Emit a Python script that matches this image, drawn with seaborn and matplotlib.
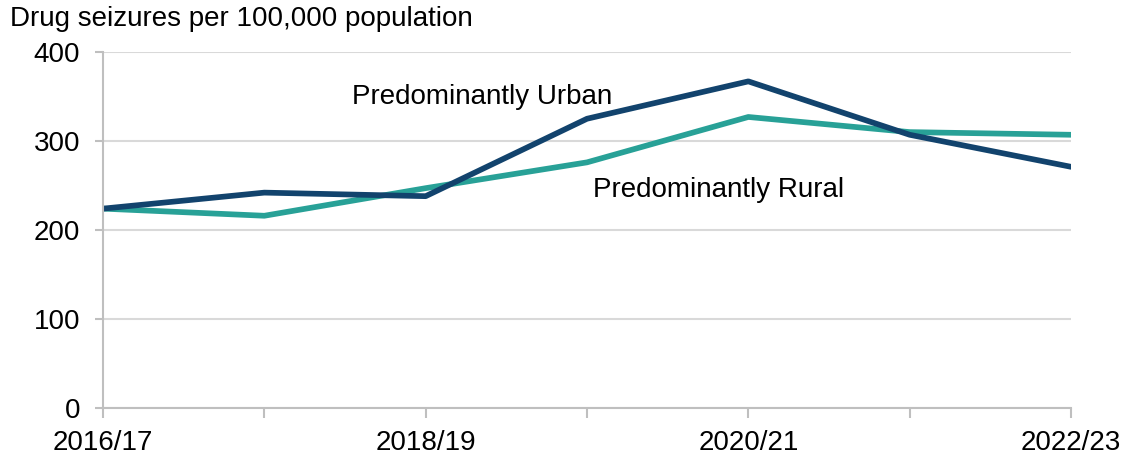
import matplotlib
matplotlib.use("Agg")
import matplotlib.pyplot as plt
import seaborn as sns
import pandas as pd

years = ["2016/17", "2017/18", "2018/19", "2019/20", "2020/21", "2021/22", "2022/23"]
urban = [224, 242, 238, 325, 367, 307, 271]
rural = [224, 216, 247, 276, 327, 310, 307]
series_names = ["Predominantly Urban", "Predominantly Rural"]
y_ticks = [0, 100, 200, 300, 400]
title = "Drug seizures per 100,000 population"

df = pd.DataFrame({
    "year": years * 2,
    "value": urban + rural,
    "series": [series_names[0]] * len(years) + [series_names[1]] * len(years),
})

sns.set_theme(style="white")
plt.rcParams["font.family"] = ["Liberation Sans", "DejaVu Sans"]

fig = plt.figure(figsize=(11.28, 4.61), dpi=100)
ax = fig.add_axes([103 / 1128, 1 - 408 / 461, (1071 - 103) / 1128, (408 - 52) / 461])

palette = {series_names[0]: "#12436D", series_names[1]: "#28A197"}
# draw rural first so urban sits on top
sns.lineplot(data=df, x="year", y="value", hue="series", hue_order=[series_names[1], series_names[0]],
             palette=palette, linewidth=4.1, sort=False, legend=False, ax=ax)

ax.set_xlim(0, len(years) - 1)
ax.set_ylim(0, 400)
ax.set_yticks(y_ticks)
ax.set_yticklabels([str(v) for v in y_ticks], fontsize=20, color="black")
ax.set_xticks(range(len(years)))
ax.set_xticklabels([y if i % 2 == 0 else "" for i, y in enumerate(years)], fontsize=20, color="black")
ax.set_xlabel("")
ax.set_ylabel("")

ax.grid(axis="y", color="#D9D9D9", linewidth=1.5)
ax.set_axisbelow(True)
for s in ["top", "right"]:
    ax.spines[s].set_visible(False)
for s in ["left", "bottom"]:
    ax.spines[s].set_color("#BFBFBF")
    ax.spines[s].set_linewidth(1.5)

ax.tick_params(axis="x", which="both", bottom=True, length=7.5, width=1.5, color="#BFBFBF", pad=8)
ax.tick_params(axis="y", which="both", left=True, length=5.5, width=1.5, color="#BFBFBF", pad=11)

ax.text(1.545, 349, series_names[0], fontsize=20, color="black", va="center", ha="left")
ax.text(3.04, 245, series_names[1], fontsize=20, color="black", va="center", ha="left")

fig.text(10 / 1128, 1 - 19 / 461, title, fontsize=20, color="black", va="center", ha="left")

fig.savefig("out.png", dpi=100, facecolor="white")
